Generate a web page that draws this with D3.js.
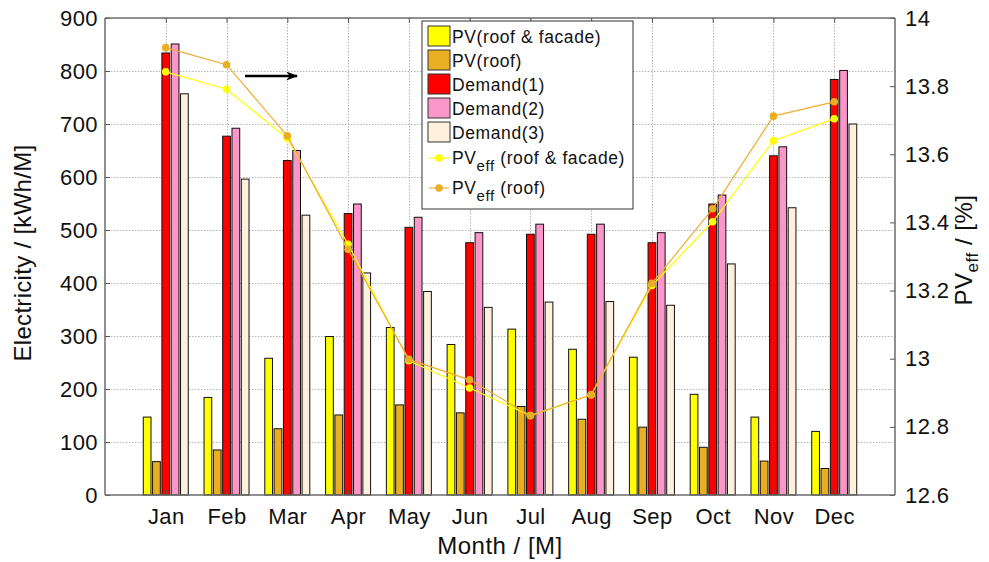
<!DOCTYPE html>
<html>
<head>
<meta charset="utf-8">
<script src="https://cdn.jsdelivr.net/npm/d3@7"></script>
<style>
  body { margin: 0; background: #fff; }
  svg { font-family: "Liberation Sans", Arial, sans-serif; }
</style>
</head>
<body>
<div id="chart"></div>
<script>
// Data
const months = ["Jan", "Feb", "Mar", "Apr", "May", "Jun", "Jul", "Aug", "Sep", "Oct", "Nov", "Dec"];
const pvRoofFacade = [147, 184, 258, 299, 316, 284, 313, 275, 260, 190, 147, 120];
const pvRoof = [63, 85, 125, 151, 170, 155, 167, 143, 128, 90, 64, 50];
const demand1 = [834, 677, 631, 531, 505, 476, 492, 492, 476, 549, 640, 784];
const demand2 = [851, 692, 650, 549, 524, 495, 511, 511, 495, 566, 657, 801];
const demand3 = [757, 596, 528, 419, 384, 354, 364, 365, 358, 436, 542, 700];
const effRoofFacade = [13.842, 13.791, 13.647, 13.336, 12.994, 12.914, 12.833, 12.894, 13.215, 13.402, 13.640, 13.704];
const effRoof = [13.913, 13.863, 13.654, 13.321, 12.998, 12.938, 12.833, 12.894, 13.221, 13.440, 13.712, 13.754];
const leftTicks = [0, 100, 200, 300, 400, 500, 600, 700, 800, 900];
const rightTicks = [12.6, 12.8, 13, 13.2, 13.4, 13.6, 13.8, 14];

const barSeries = [
  {name: "PV(roof & facade)", values: pvRoofFacade, color: "#ffff00"},
  {name: "PV(roof)", values: pvRoof, color: "#e9ae22"},
  {name: "Demand(1)", values: demand1, color: "#ff0000"},
  {name: "Demand(2)", values: demand2, color: "#fa96c8"},
  {name: "Demand(3)", values: demand3, color: "#fdf0dc"}
];
const lineSeries = [
  {name: " (roof & facade)", values: effRoofFacade, color: "#ffff00", marker: "#ffff00"},
  {name: " (roof)", values: effRoof, color: "#eeae30", marker: "#e9ae22"}
];

const W = 989, H = 562;
const plot = {left: 105, right: 895, top: 18, bottom: 495};

const svg = d3.select("#chart").append("svg")
    .attr("width", W)
    .attr("height", H);

// Scales
const x = d3.scaleLinear().domain([0, 13]).range([plot.left, plot.right]);
const inner = d3.scaleBand()
    .domain(barSeries.map(s => s.name))
    .range([-22.5, 22.5])
    .paddingInner(0.17);
const y = d3.scaleLinear().domain([0, 900]).range([plot.bottom, plot.top]);
const y2 = d3.scaleLinear().domain([12.6, 14]).range([plot.bottom, plot.top]);

// Grid
const grid = svg.append("g").attr("stroke", "#b5b5b5").attr("stroke-width", 1)
    .attr("stroke-dasharray", "1.5,1.5");
grid.selectAll(".hg").data(leftTicks.slice(1, -1)).enter().append("line")
    .attr("x1", plot.left).attr("x2", plot.right)
    .attr("y1", d => Math.round(y(d)) + 0.5).attr("y2", d => Math.round(y(d)) + 0.5);
grid.selectAll(".vg").data(months).enter().append("line")
    .attr("x1", (d, i) => Math.round(x(i + 1)) + 0.5).attr("x2", (d, i) => Math.round(x(i + 1)) + 0.5)
    .attr("y1", plot.top).attr("y2", plot.bottom);

// Bars
barSeries.forEach(s => {
  svg.append("g").selectAll("rect").data(s.values).enter().append("rect")
      .attr("x", (d, i) => x(i + 1) + inner(s.name))
      .attr("y", d => y(d))
      .attr("width", inner.bandwidth())
      .attr("height", d => y(0) - y(d))
      .attr("fill", s.color)
      .attr("stroke", "#111")
      .attr("stroke-width", 1);
});

// Lines on right axis
const line = d3.line().x((d, i) => x(i + 1)).y(d => y2(d));
lineSeries.forEach(s => {
  svg.append("path").datum(s.values)
      .attr("d", line)
      .attr("fill", "none")
      .attr("stroke", s.color)
      .attr("stroke-width", 1.2);
  svg.append("g").selectAll("circle").data(s.values).enter().append("circle")
      .attr("cx", (d, i) => x(i + 1))
      .attr("cy", d => y2(d))
      .attr("r", 3.8)
      .attr("fill", s.marker);
});

// Axes
const axisG = svg.append("g").attr("font-size", 22).attr("letter-spacing", 0.4);
const leftAxis = axisG.append("g")
    .attr("transform", `translate(${plot.left},0)`)
    .call(d3.axisLeft(y).tickValues(leftTicks).tickSize(-5).tickPadding(7).tickFormat(d3.format("d")));
const rightAxis = axisG.append("g")
    .attr("transform", `translate(${plot.right},0)`)
    .call(d3.axisRight(y2).tickValues(rightTicks).tickSize(-5).tickPadding(10).tickFormat(d => +d.toFixed(1)));
const bottomAxis = axisG.append("g")
    .attr("transform", `translate(0,${plot.bottom})`)
    .call(d3.axisBottom(x).tickValues(d3.range(1, 13)).tickSize(-5).tickPadding(13)
      .tickFormat(d => months[d - 1]));
const topAxis = axisG.append("g")
    .attr("transform", `translate(0,${plot.top})`)
    .call(d3.axisTop(x).tickValues(d3.range(1, 13)).tickSize(-5).tickFormat(""));
[leftAxis, rightAxis, bottomAxis, topAxis].forEach(a => {
  a.attr("font-family", null).attr("font-size", null);
  a.selectAll(".domain").attr("stroke", "#6b6b6b").attr("stroke-width", 1.5);
  a.selectAll(".tick line").attr("stroke", "#555");
  a.selectAll("text").attr("fill", "#111");
});
leftAxis.selectAll(".domain").attr("d", `M0,${plot.top}V${plot.bottom}`);
rightAxis.selectAll(".domain").attr("d", `M0,${plot.top}V${plot.bottom}`);
bottomAxis.selectAll(".domain").attr("d", `M${plot.left},0H${plot.right}`);
topAxis.selectAll(".domain").attr("d", `M${plot.left},0H${plot.right}`);

// Axis titles
svg.append("text")
    .attr("transform", `translate(31,253) rotate(-90)`)
    .attr("text-anchor", "middle")
    .attr("font-size", 24)
    .attr("letter-spacing", 0.3)
    .attr("fill", "#111")
    .text("Electricity / [kWh/M]");
svg.append("text")
    .attr("x", 500)
    .attr("y", 554)
    .attr("text-anchor", "middle")
    .attr("font-size", 24)
    .attr("letter-spacing", 0.5)
    .attr("fill", "#111")
    .text("Month / [M]");
const rt = svg.append("text")
    .attr("transform", `translate(972,250) rotate(-90)`)
    .attr("text-anchor", "middle")
    .attr("font-size", 24)
    .attr("letter-spacing", 0.5)
    .attr("fill", "#111");
rt.append("tspan").text("PV");
rt.append("tspan").attr("font-size", 17).attr("dy", 6).text("eff");
rt.append("tspan").attr("dy", -6).text(" / [%]");

// Arrow pointing to the right axis
const defs = svg.append("defs");
defs.append("marker")
    .attr("id", "arrowhead")
    .attr("viewBox", "0 0 10 10")
    .attr("refX", 9).attr("refY", 5)
    .attr("markerWidth", 12).attr("markerHeight", 9)
    .attr("markerUnits", "userSpaceOnUse")
    .attr("orient", "auto")
    .attr("preserveAspectRatio", "none")
    .append("path").attr("d", "M0,0L10,5L0,10L3,5Z").attr("fill", "#000");
svg.append("line")
    .attr("x1", 245).attr("y1", 76).attr("x2", 297).attr("y2", 76)
    .attr("stroke", "#000").attr("stroke-width", 2.5)
    .attr("marker-end", "url(#arrowhead)");

// Legend
const legend = svg.append("g").attr("transform", "translate(422,21)");
legend.append("rect")
    .attr("width", 211).attr("height", 188)
    .attr("fill", "#fff").attr("stroke", "#333").attr("stroke-width", 1);
barSeries.forEach((s, i) => {
  const g = legend.append("g").attr("transform", `translate(6,${5 + i * 24})`);
  g.append("rect").attr("width", 22).attr("height", 20)
      .attr("fill", s.color).attr("stroke", "#333").attr("stroke-width", 1);
  g.append("text").attr("x", 24).attr("y", 17).attr("font-size", 17.5)
      .attr("letter-spacing", 0.6).attr("fill", "#111").text(s.name);
});
lineSeries.forEach((s, i) => {
  const g = legend.append("g").attr("transform", `translate(6,${137 + i * 30})`);
  g.append("line").attr("x1", 1).attr("x2", 21).attr("y1", 0).attr("y2", 0)
      .attr("stroke", s.color).attr("stroke-width", 1.2);
  g.append("circle").attr("cx", 11).attr("cy", 0).attr("r", 3.8).attr("fill", s.marker);
  const t = g.append("text").attr("x", 24).attr("y", 6).attr("font-size", 17.5)
      .attr("letter-spacing", 0.6).attr("fill", "#111");
  t.append("tspan").text("PV");
  t.append("tspan").attr("font-size", 15).attr("dy", 7).text("eff");
  t.append("tspan").attr("dy", -7).text(s.name);
});
</script>
</body>
</html>
